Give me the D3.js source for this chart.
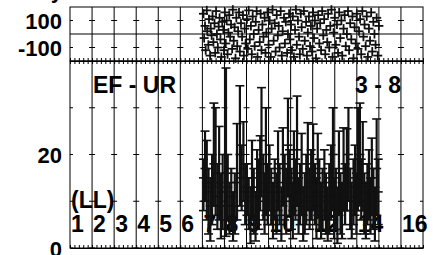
<!DOCTYPE html>
<html lang="en">
<head>
<meta charset="UTF-8">
<title>EF - UR</title>
<script src="https://d3js.org/d3.v7.min.js"></script>
<style>
  body { margin: 0; background: #fff; }
  text { font-family: "Liberation Sans", Arial, sans-serif; font-weight: bold; fill: #000; }
</style>
</head>
<body>
<svg id="chart" width="441" height="255"></svg>
<script>
// x tick labels under the lower panel
const xTickLabels = [1, 2, 3, 4, 5, 6, 7, 8, 9, 10, 12, 14, 16];
const topTicks = [-100, 100];
const botTicks = [0, 10, 20, 30];
const botTickLabels = [0, 20];

// upper panel: scattered points
const topX = [6.05,6.08,6.12,6.15,6.2,6.22,6.27,6.3,6.35,6.38,6.42,6.46,6.5,6.55,6.58,6.62,6.66,6.7,6.74,6.78,6.82,6.86,6.9,6.95,6.98,
  7.02,7.06,7.1,7.14,7.18,7.22,7.26,7.3,7.35,7.38,7.42,7.46,7.5,7.54,7.58,7.62,7.66,7.7,7.75,7.8,7.84,7.88,7.92,7.96,
  8.02,8.06,8.1,8.15,8.2,8.24,8.28,8.33,8.37,8.42,8.46,8.5,8.55,8.6,8.64,8.68,8.72,8.77,8.82,8.86,8.9,8.95,
  9.0,9.05,9.1,9.14,9.18,9.23,9.28,9.32,9.37,9.42,9.46,9.5,9.55,9.6,9.64,9.7,9.74,9.78,9.84,9.88,9.93,9.97,
  10.02,10.06,10.1,10.15,10.2,10.24,10.28,10.33,10.38,10.42,10.46,10.5,10.55,10.6,10.64,10.7,10.74,10.78,10.83,10.88,10.92,10.97,
  11.02,11.06,11.1,11.15,11.2,11.25,11.3,11.34,11.38,11.43,11.48,11.52,11.57,11.62,11.66,11.7,11.75,11.8,11.85,11.9,11.95,
  12.0,12.05,12.1,12.15,12.2,12.25,12.3,12.34,12.4,12.45,12.5,12.55,12.6,12.65,12.7,12.75,12.8,12.85,12.9,12.95,
  13.0,13.05,13.1,13.15,13.2,13.25,13.3,13.35,13.4,13.45,13.5,13.55,13.6,13.65,13.7,13.75,13.8,13.85,13.9,13.95,14.0];
const topY = [150,-30,60,-120,175,20,-80,110,-160,40,-10,130,-60,80,-140,170,0,-100,55,120,-40,-170,90,30,-120,
  160,-70,100,-150,10,140,-20,70,-110,180,-50,50,-180,120,-90,20,160,-130,80,-20,140,-160,40,-70,
  110,-110,175,-40,60,-150,130,0,-90,90,170,-170,30,-60,150,-120,70,-20,120,-140,10,160,
  -80,100,-170,40,180,-50,80,-130,140,-10,60,-100,170,-160,20,120,-70,90,-140,0,150,-40,
  70,-120,130,-170,30,180,-80,100,-20,-150,150,50,-110,170,-50,90,-160,10,130,-90,60,-130,
  160,-30,100,-180,40,140,-70,80,-120,170,-10,110,-150,30,-60,150,-100,60,180,-170,10,
  120,-80,70,-140,160,-30,100,-160,40,140,-90,0,170,-120,80,-40,130,-180,50,-70,
  150,-110,20,110,-150,170,-20,70,-90,130,-170,40,-50,160,-130,90,0,-80,120,-160,60];

// lower panel: range bars (low, middle, high)
const barX = [6.05,6.12,6.2,6.28,6.36,6.44,6.52,6.6,6.68,6.76,6.84,6.92,
  7.07,7.15,7.23,7.31,7.39,7.47,7.57,7.7,7.78,7.86,7.94,
  8.02,8.1,8.18,8.25,8.33,8.41,8.48,8.56,8.62,8.68,8.76,8.82,8.88,8.96,
  9.04,9.12,9.2,9.28,9.36,9.43,9.5,9.58,9.65,9.73,9.8,9.88,9.95,
  10.04,10.1,10.15,10.22,10.29,10.36,10.43,10.5,10.57,10.64,10.71,10.78,10.86,10.93,
  11.02,11.1,11.17,11.23,11.3,11.38,11.45,11.53,11.6,11.68,11.75,11.83,11.92,11.97,
  12.05,12.12,12.19,12.26,12.33,12.4,12.47,12.55,12.62,12.7,12.77,12.85,12.92,12.98,
  13.05,13.14,13.2,13.27,13.34,13.41,13.48,13.55,13.62,13.68,13.75,13.82,13.9,13.97];
const barHi = [19,25,23,17,15,20,31,30,18,26,16,20,
  38.5,20,14,17,12,16,26.6,34.7,22,27,18,
  18,15,13,23,17,12,21,19,24,34.3,20,16,30,18,
  22,17,14,19,16,25,18,13,25.7,20,17,32,21,
  17,14,25,19,32.5,15,18,24.5,13,16,20,26.8,17,21,
  26.5,18,15,24.5,19,14,17,21,16,13,18,22,30,15,
  17,13,25,16,14,25.7,18,25.5,30,17,14,19,22,16,
  30,31,19,27,16,14,18,21,15,23.5,17,13,27.6,19];
const barMid = [15,17,14,12,9,13,18,16,11,14,9,12,
  16,13,9,11,6,9,14,20,15,17,12,
  13,10,7,15,11,6,13,12,16,23,14,10,18,12,
  15,12,8,13,10,17,12,7,18,14,10,22,15,
  11,8,16,13,21,9,12,16,7,10,13,18,11,14,
  17,12,9,16,12,8,11,14,10,7,11,15,20,9,
  11,7,16,10,8,17,12,17,20,11,8,13,15,10,
  19,20,13,18,10,8,12,14,9,15,11,7,17,12];
const barLo = [8,10,6,3,1.5,5,9,7,4,6,2,4,
  2.5,6,3,4,1.5,3,6,9,8,10,5,
  7,4,1,6,3,1.5,5,4,8,11,6,3,7,5,
  8,5,2,6,3,8,5,1.5,9,6,3,11,7,
  4,2,7,6,9,3,5,7,1.5,3,5,8,4,6,
  8,5,2,7,4,2,4,6,3,1.5,3,6,8,2,
  4,1,7,3,2,8,5,8,10,4,2,5,7,3,
  8,9,6,8,3,2,5,6,3,7,4,1.5,7,5];

const svg = d3.select('#chart');
const padL = 70, padR = 423, padT = 7, padM = 61, padB = 248;

const x = d3.scaleLinear().domain([0, 16]).range([padL, padR]);
const yTop = d3.scaleLinear().domain([-200, 200]).range([padM, padT]);
const yBot = d3.scaleLinear().domain([0, 40]).range([padB, padM]);

const ink = svg.append('g').attr('stroke', '#000').attr('fill', 'none');

// vertical grid lines through both panels
ink.selectAll('.vgrid')
  .data(d3.range(1, 16))
  .join('line')
  .attr('x1', d => x(d)).attr('x2', d => x(d))
  .attr('y1', padT).attr('y2', padB);

// zero line of upper panel
ink.append('line')
  .attr('x1', padL).attr('x2', padR)
  .attr('y1', yTop(0)).attr('y2', yTop(0));

// small y ticks drawn on every grid line
const gridPos = d3.range(0, 17);
function crossTicks(vals, scale) {
  vals.forEach(v => {
    ink.selectAll(null)
      .data(gridPos)
      .join('line')
      .attr('x1', d => d === 0 ? x(d) : x(d) - 3)
      .attr('x2', d => d === 16 ? x(d) : x(d) + 3)
      .attr('y1', scale(v)).attr('y2', scale(v));
  });
}
crossTicks(topTicks, yTop);
crossTicks(botTicks, yBot);

// minor x ticks on panel edges
const minor = d3.range(0, 16.001, 0.2);
svg.append('g')
  .attr('transform', `translate(0,${padM})`)
  .call(d3.axisBottom(x).tickValues(minor).tickSizeInner(-3).tickSizeOuter(0).tickFormat(''));
svg.append('g')
  .attr('transform', `translate(0,${padM})`)
  .call(d3.axisTop(x).tickValues(minor).tickSizeInner(-3).tickSizeOuter(0).tickFormat(''));
svg.append('g')
  .attr('transform', `translate(0,${padB})`)
  .call(d3.axisBottom(x).tickValues(minor).tickSizeInner(-3).tickSizeOuter(0).tickFormat(''));
svg.selectAll('.domain').attr('stroke', '#000');
svg.selectAll('.tick line').attr('stroke', '#000');

// panel frames
ink.append('rect').attr('x', padL).attr('y', padT).attr('width', padR - padL).attr('height', padM - padT);
ink.append('rect').attr('x', padL).attr('y', padM).attr('width', padR - padL).attr('height', padB - padM);

// y labels
svg.selectAll('.ylt')
  .data(topTicks)
  .join('text')
  .attr('x', 62).attr('y', d => yTop(d) + 8.5)
  .attr('text-anchor', 'end').attr('font-size', 22)
  .text(d => d);
svg.selectAll('.ylb')
  .data(botTickLabels)
  .join('text')
  .attr('x', 62).attr('y', d => yBot(d) + 8.5)
  .attr('text-anchor', 'end').attr('font-size', 22)
  .text(d => d);

// cut-off axis title at the very top
svg.append('text').attr('x', 63).attr('y', -2).attr('text-anchor', 'end').attr('font-size', 22).text('y');

// x labels (data is drawn over them)
svg.selectAll('.xl')
  .data(xTickLabels)
  .join('text')
  .attr('x', d => x(d - 1) + 1).attr('y', 232)
  .attr('font-size', 23)
  .text(d => d);

svg.append('text').attr('x', 71).attr('y', 208).attr('font-size', 23).text('(LL)');
svg.append('text').attr('x', 93).attr('y', 93).attr('font-size', 23).text('EF - UR');
svg.append('text').attr('x', 401).attr('y', 93).attr('text-anchor', 'end').attr('font-size', 23).text('3 - 8');

// upper panel plus markers
const pts = topX.map((d, i) => ({ x: d, y: topY[i] }));
const plus = svg.append('g').attr('stroke', '#111').attr('stroke-width', 1.8);
plus.selectAll('.ph')
  .data(pts)
  .join('line')
  .attr('x1', d => x(d.x) - 4.5).attr('x2', d => x(d.x) + 4.5)
  .attr('y1', d => yTop(d.y)).attr('y2', d => yTop(d.y));
plus.selectAll('.pv')
  .data(pts)
  .join('line')
  .attr('x1', d => x(d.x)).attr('x2', d => x(d.x))
  .attr('y1', d => yTop(d.y) - 4.5).attr('y2', d => yTop(d.y) + 4.5);

// lower panel range bars
const bars = barX.map((d, i) => ({ x: d, lo: barLo[i], mid: barMid[i], hi: barHi[i] }));
const bg = svg.append('g').attr('stroke', '#111');
bg.selectAll('.stem')
  .data(bars)
  .join('line')
  .attr('stroke-width', 2.2)
  .attr('x1', d => x(d.x)).attr('x2', d => x(d.x))
  .attr('y1', d => yBot(d.lo)).attr('y2', d => yBot(d.hi));
['lo', 'mid', 'hi'].forEach(k => {
  bg.selectAll(null)
    .data(bars)
    .join('line')
    .attr('stroke-width', 1.6)
    .attr('x1', d => x(d.x) - 4.5).attr('x2', d => x(d.x) + 4.5)
    .attr('y1', d => yBot(d[k])).attr('y2', d => yBot(d[k]));
});
</script>
</body>
</html>
